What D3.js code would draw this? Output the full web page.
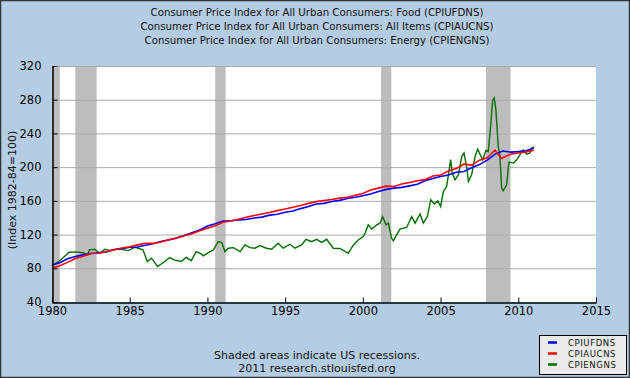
<!DOCTYPE html>
<html>
<head>
<meta charset="utf-8">
<script src="https://cdn.jsdelivr.net/npm/d3@7"></script>
<style>
  body { margin: 0; background: #fff; }
  svg { display: block; font-family: "DejaVu Sans", Verdana, sans-serif; }
</style>
</head>
<body>
<svg id="chart" width="630" height="378"></svg>
<script>
// chart text
const titles = [
  "Consumer Price Index for All Urban Consumers: Food (CPIUFDNS)",
  "Consumer Price Index for All Urban Consumers: All Items (CPIAUCNS)",
  "Consumer Price Index for All Urban Consumers: Energy (CPIENGNS)"
];
const yLabel = "(Index 1982-84=100)";
const footer = ["Shaded areas indicate US recessions.", "2011 research.stlouisfed.org"];
const seriesNames = ["CPIUFDNS", "CPIAUCNS", "CPIENGNS"];

const xTicks = [1980, 1985, 1990, 1995, 2000, 2005, 2010, 2015];
const yTicks = [40, 80, 120, 160, 200, 240, 280, 320];

// recessions [start, end] in decimal years
const recessions = [[1980.0, 1980.5], [1981.5, 1982.87], [1990.5, 1991.17], [2001.17, 2001.83], [2007.92, 2009.5]];

// food and all items, read at Jan / Jul of each year
const halfYears = [];
for (let yr = 1980; yr <= 2010; yr++) { halfYears.push(yr, yr + 0.5); }
halfYears.push(2011);

const foodValues = [
  84.0, 86.6, 91.4, 93.9, 95.9, 97.6, 98.4, 99.4, 102.2, 103.1,
  104.9, 105.3, 107.3, 109.2, 111.7, 113.5, 116.0, 118.9, 122.3, 125.5,
  130.1, 132.8, 136.0, 136.4, 137.3, 137.8, 139.7, 140.7, 143.1, 144.1,
  146.5, 147.9, 150.8, 153.4, 156.2, 157.0, 159.3, 160.6, 162.7, 164.2,
  166.1, 168.1, 171.1, 173.6, 175.1, 176.0, 177.8, 179.6, 183.9, 186.6,
  189.0, 190.6, 193.9, 194.8, 199.3, 203.0, 208.3, 215.3, 219.2, 217.8,
  218.4, 219.5, 222.6
];

const allItemsDates = halfYears.slice(0, 58).concat([2008.92], halfYears.slice(58));
const allItemsValues = [
  80.0, 83.0, 87.0, 91.6, 94.3, 97.5, 97.8, 99.9, 101.9, 104.1,
  105.5, 107.8, 109.6, 109.5, 111.2, 113.8, 115.7, 118.5, 121.1, 124.4,
  127.4, 130.4, 134.6, 136.2, 138.1, 140.5, 142.6, 144.4, 146.2, 148.4,
  150.3, 152.5, 154.4, 157.0, 159.1, 160.5, 161.6, 163.2, 164.3, 166.7,
  168.8, 172.8, 175.1, 177.5, 177.1, 180.1, 181.7, 183.9, 185.2, 189.4,
  190.7, 195.4, 198.3, 203.5, 202.4, 208.3, 211.1, 220.0, 210.2, 211.1,
  215.4, 216.7, 218.0, 220.2
];

// energy
const energyDates = [
  1980.0, 1980.5, 1981.1, 1981.5, 1982.0, 1982.3, 1982.4, 1982.75, 1983.07, 1983.4,
  1983.8, 1984.25, 1984.9, 1985.36, 1985.85, 1986.13, 1986.4, 1986.8, 1987.25, 1987.57,
  1987.9, 1988.3, 1988.64, 1988.96, 1989.28, 1989.6, 1989.74, 1990.06, 1990.38, 1990.7,
  1990.92, 1991.13, 1991.34, 1991.67, 1992.1, 1992.42, 1992.74, 1993.06, 1993.38, 1993.8,
  1994.13, 1994.55, 1994.88, 1995.31, 1995.63, 1996.06, 1996.34, 1996.7, 1997.03, 1997.35,
  1997.67, 1998.1, 1998.53, 1999.06, 1999.39, 1999.7, 2000.03, 2000.14, 2000.35, 2000.57,
  2000.89, 2001.1, 2001.27, 2001.49, 2001.64, 2001.85, 2001.96, 2002.17, 2002.39, 2002.82,
  2003.14, 2003.36, 2003.68, 2003.89, 2004.15, 2004.37, 2004.6, 2004.82, 2005.0, 2005.18,
  2005.39, 2005.65, 2005.75, 2005.93, 2006.15, 2006.36, 2006.51, 2006.69, 2006.79, 2007.0,
  2007.22, 2007.39, 2007.5, 2007.71, 2007.92, 2008.07, 2008.22, 2008.35, 2008.45, 2008.56,
  2008.71, 2008.82, 2008.93, 2009.03, 2009.25, 2009.4, 2009.69, 2009.9, 2010.1, 2010.32,
  2010.53, 2010.75, 2010.86, 2011.0
];
const energyValues = [
  83.0, 89.0, 99.0, 99.5, 98.5, 95.8, 101.8, 102.6, 97.8, 102.6,
  101.0, 103.0, 101.0, 105.0, 102.0, 88.0, 92.0, 82.0, 88.0, 92.7,
  89.7, 88.0, 93.0, 89.0, 99.8, 97.0, 94.7, 98.6, 101.8, 111.6,
  110.5, 99.8, 103.8, 104.5, 99.8, 107.7, 104.5, 103.8, 106.9, 103.8,
  102.6, 109.7, 103.8, 108.5, 103.8, 107.7, 114.4, 111.6, 114.4, 110.8,
  114.4, 103.8, 103.5, 97.8, 107.7, 113.6, 117.6, 121.6, 131.5, 126.6,
  131.5, 133.5, 141.4, 131.5, 133.5, 115.6, 112.5, 119.6, 126.4, 128.4,
  141.4, 133.5, 144.5, 133.5, 141.4, 161.2, 156.4, 160.0, 153.2, 171.0,
  177.0, 209.0, 193.0, 185.0, 191.0, 212.6, 216.6, 199.0, 183.0, 191.0,
  212.6, 221.3, 216.6, 208.7, 219.7, 218.5, 248.2, 279.0, 282.0, 268.0,
  224.5, 212.6, 175.0, 172.0, 179.0, 206.0, 204.8, 208.7, 214.6, 220.5,
  215.5, 216.6, 222.6, 224.0
];

const colors = ["#0000ff", "#ff0000", "#006e00"];

const svg = d3.select("#chart");

// background and frame
svg.append("rect").attr("x", 0).attr("y", 0).attr("width", 630).attr("height", 378)
  .attr("fill", "#b4cde5");
svg.append("rect").attr("x", 0.5).attr("y", 0.5).attr("width", 629).attr("height", 377)
  .attr("fill", "none").attr("stroke", "#333").attr("stroke-width", 1.5);

let xScale = d3.scaleLinear().domain([1980, 2015]).range([52, 596]);
let yScale = d3.scaleLinear().domain([40, 320]).range([302, 66]);

// plot area
svg.append("rect")
  .attr("x", xScale(1980)).attr("y", yScale(320))
  .attr("width", xScale(2015) - xScale(1980)).attr("height", yScale(40) - yScale(320))
  .attr("fill", "#fff");

// recession bars
svg.selectAll(".recession").data(recessions).enter().append("rect")
  .attr("class", "recession")
  .attr("x", d => xScale(d[0]))
  .attr("y", yScale(320))
  .attr("width", d => xScale(d[1]) - xScale(d[0]))
  .attr("height", yScale(40) - yScale(320))
  .attr("fill", "#bdbdbd");

// gridlines
svg.selectAll(".grid").data(yTicks.filter(t => t > 40)).enter().append("line")
  .attr("class", "grid")
  .attr("x1", xScale(1980)).attr("x2", xScale(2015))
  .attr("y1", d => yScale(d) + 0.5).attr("y2", d => yScale(d) + 0.5)
  .attr("stroke", "#aaa").attr("stroke-width", 1);

// series
let lineGenerator = d3.line()
  .x(d => xScale(d[0]))
  .y(d => yScale(d[1]));

let energyLine = energyDates.map((d, i) => [d, energyValues[i]]);
let allItemsLine = allItemsDates.map((d, i) => [d, allItemsValues[i]]);
let foodLine = halfYears.map((d, i) => [d, foodValues[i]]);

svg.append("path").attr("d", lineGenerator(energyLine))
  .attr("fill", "none").attr("stroke", colors[2]).attr("stroke-width", 1.4);
svg.append("path").attr("d", lineGenerator(foodLine))
  .attr("fill", "none").attr("stroke", colors[0]).attr("stroke-width", 1.6);
svg.append("path").attr("d", lineGenerator(allItemsLine))
  .attr("fill", "none").attr("stroke", colors[1]).attr("stroke-width", 1.6);

// axes
let yAxis = d3.axisLeft(yScale).tickValues(yTicks).tickSizeInner(-5).tickSizeOuter(0).tickPadding(11);
let yAxisG = svg.append("g").attr("transform", "translate(" + (xScale(1980) + 0.5) + ",0)").call(yAxis);

let xAxis = d3.axisBottom(xScale).tickValues(xTicks).tickFormat(d3.format("d"))
  .tickSizeInner(-5).tickSizeOuter(0).tickPadding(4);
let xAxisG = svg.append("g").attr("transform", "translate(0," + (yScale(40) + 0.5) + ")").call(xAxis);

[yAxisG, xAxisG].forEach(function(g) {
  g.select(".domain").attr("stroke", "#000").attr("stroke-width", 1.5);
  g.selectAll(".tick line").attr("stroke", "#000");
  g.selectAll(".tick text").attr("fill", "#000").attr("font-size", 11.5)
    .attr("font-family", "DejaVu Sans, Verdana, sans-serif");
});

// titles
svg.selectAll(".title").data(titles).enter().append("text")
  .attr("class", "title")
  .attr("x", 317).attr("y", (d, i) => 16 + i * 14)
  .attr("text-anchor", "middle").attr("font-size", 10.2).attr("fill", "#111")
  .text(d => d);

// y label
svg.append("text")
  .attr("transform", "translate(16,190) rotate(-90)")
  .attr("text-anchor", "middle").attr("font-size", 11).attr("fill", "#111")
  .text(yLabel);

// footer
svg.selectAll(".footer").data(footer).enter().append("text")
  .attr("class", "footer")
  .attr("x", 317).attr("y", (d, i) => 359 + i * 13)
  .attr("text-anchor", "middle").attr("font-size", 11).attr("fill", "#111")
  .text(d => d);

// legend
let legend = svg.append("g").attr("transform", "translate(539,335)");
legend.append("rect").attr("x", 0.5).attr("y", 0.5).attr("width", 87).attr("height", 39)
  .attr("fill", "#ebebeb").attr("stroke", "#000");
seriesNames.forEach(function(name, i) {
  legend.append("line")
    .attr("x1", 9).attr("x2", 18).attr("y1", 7.5 + i * 11).attr("y2", 7.5 + i * 11)
    .attr("stroke", colors[i]).attr("stroke-width", 2.5);
  legend.append("text")
    .attr("x", 29).attr("y", 11 + i * 11)
    .attr("font-size", 8.5).attr("letter-spacing", 0.6).attr("fill", "#111")
    .text(name);
});
</script>
</body>
</html>
